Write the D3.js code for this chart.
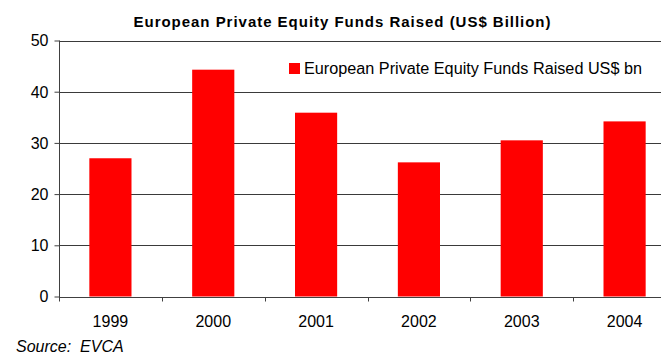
<!DOCTYPE html>
<html>
<head>
<meta charset="utf-8">
<script src="https://cdn.jsdelivr.net/npm/d3@7"></script>
<style>
  html, body { margin: 0; padding: 0; background: #fff; }
  svg { display: block; font-family: "Liberation Sans", Arial, sans-serif; }
</style>
</head>
<body>
<svg id="chart" width="661" height="356"></svg>
<script>
// Funds raised by year, US$ billion
const years = ["1999", "2000", "2001", "2002", "2003", "2004"];
const fundsRaised = [27.0, 44.3, 35.9, 26.2, 30.5, 34.2];
const yTicks = [0, 10, 20, 30, 40, 50];

const titleText = "European Private Equity Funds Raised (US$ Billion)";
const legendText = "European Private Equity Funds Raised US$ bn";
const sourceText = "Source:  EVCA";

const svg = d3.select("#chart");
const plotLeft = 59, plotRight = 676, plotTop = 40.5, plotBottom = 296.5;
const fontFamily = "Liberation Sans, Arial, sans-serif";

const x = d3.scaleBand().domain(years).range([plotLeft, plotRight]).paddingInner(0.59).paddingOuter(0.295);
const xTickScale = d3.scaleBand().domain(years).range([plotLeft, plotRight]);
const y = d3.scaleLinear().domain([0, 50]).range([plotBottom, plotTop]);

// Horizontal gridlines
svg.append("g")
  .selectAll("line")
  .data(yTicks.filter(d => d > 0))
  .join("line")
  .attr("x1", plotLeft).attr("x2", plotRight)
  .attr("y1", d => Math.round(y(d)) + 0.5).attr("y2", d => Math.round(y(d)) + 0.5)
  .attr("stroke", "#3a3a3a").attr("stroke-width", 1);

// Bars
svg.append("g")
  .selectAll("rect")
  .data(years.map((yr, i) => ({ yr, v: fundsRaised[i] })))
  .join("rect")
  .attr("x", d => x(d.yr))
  .attr("width", x.bandwidth())
  .attr("y", d => y(d.v))
  .attr("height", d => y(0) - y(d.v))
  .attr("fill", "#ff0000");

// Y axis
const yAxis = svg.append("g")
  .attr("transform", `translate(${plotLeft + 0.5},0)`)
  .call(d3.axisLeft(y).tickValues(yTicks).tickSize(5).tickPadding(6).tickFormat(d3.format("d")))
  .attr("font-size", 16).attr("font-family", fontFamily);
yAxis.select(".domain").attr("stroke", "#404040").attr("d", `M0,${plotTop}V${plotBottom + 3}`);
yAxis.selectAll(".tick line").attr("stroke", "#404040");
yAxis.selectAll(".tick text").attr("fill", "#000").attr("dy", "0.34em");

// X axis with ticks between categories
const xAxis = svg.append("g")
  .attr("transform", `translate(0,${Math.round(plotBottom) + 0.5})`)
  .attr("font-size", 16).attr("font-family", fontFamily);
xAxis.append("line")
  .attr("x1", plotLeft).attr("x2", plotRight)
  .attr("stroke", "#404040");
xAxis.selectAll("line.tk")
  .data(years)
  .join("line")
  .attr("class", "tk")
  .attr("x1", d => Math.round(xTickScale(d)) + 0.5)
  .attr("x2", d => Math.round(xTickScale(d)) + 0.5)
  .attr("y1", 0).attr("y2", 4)
  .attr("stroke", "#404040");
xAxis.selectAll("text")
  .data(years)
  .join("text")
  .attr("x", d => xTickScale(d) + xTickScale.bandwidth() / 2)
  .attr("y", 29.5)
  .attr("text-anchor", "middle")
  .attr("fill", "#000")
  .text(d => d);

// Title
svg.append("text")
  .attr("x", 342).attr("y", 27)
  .attr("text-anchor", "middle")
  .attr("font-size", 15).attr("font-weight", "bold")
  .attr("textLength", 417).attr("lengthAdjust", "spacing")
  .text(titleText);

// Legend
svg.append("rect")
  .attr("x", 289).attr("y", 63).attr("width", 11).attr("height", 11)
  .attr("fill", "#ff0000");
svg.append("text")
  .attr("x", 304).attr("y", 74)
  .attr("font-size", 16)
  .attr("textLength", 338).attr("lengthAdjust", "spacingAndGlyphs")
  .text(legendText);

// Source note
svg.append("text")
  .attr("x", 16).attr("y", 352)
  .attr("font-size", 16).attr("font-style", "italic")
  .style("white-space", "pre")
  .text(sourceText);
</script>
</body>
</html>
